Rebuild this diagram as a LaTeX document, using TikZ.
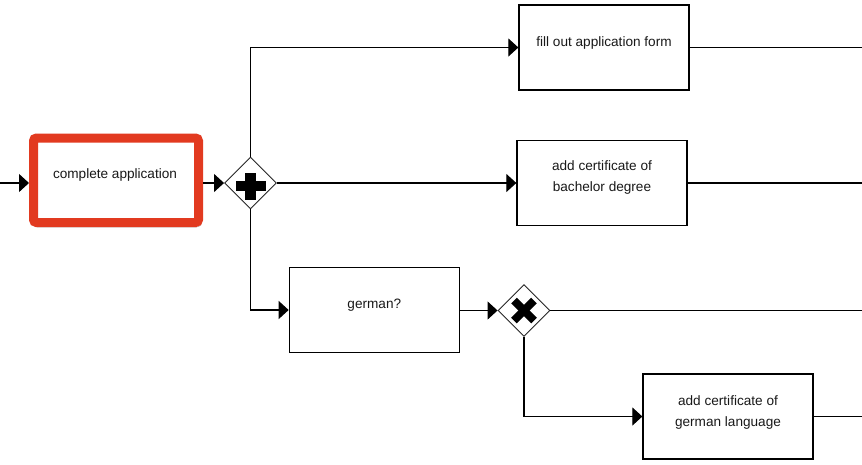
\documentclass[tikz,border=0pt]{standalone}
\usepackage{fontspec}
\setmainfont{Liberation Sans}
\usetikzlibrary{arrows.meta,shapes.geometric,shadows.blur}
\definecolor{hlred}{RGB}{226,58,32}
\begin{document}
\begin{tikzpicture}[x=1pt,y=-1pt,
  task/.style={draw=black, line width=1.3pt, minimum width=170pt, minimum height=85pt, inner sep=0pt, fill=white},
  hltask/.style={draw=hlred, line width=9pt, rounded corners=3pt, minimum width=165pt, minimum height=84.5pt, inner sep=0pt, fill=white,
     blur shadow={shadow xshift=1pt, shadow yshift=-2.5pt, shadow blur steps=6, shadow opacity=45}},
  gate/.style={diamond, aspect=1, draw=black!85, line width=0.9pt, minimum size=52pt, inner sep=0pt, fill=white},
  flow/.style={line width=1.05pt, -{Triangle[length=10pt,width=18pt]}},
  plain/.style={line width=1.05pt},
  txt/.style={font=\fontsize{13.6}{21}\selectfont, align=center, inner sep=0pt, text=black!90}
]
\useasboundingbox (0,0) rectangle (862,464);
\fill[white] (0,0) rectangle (862,464);

% nodes
\node[hltask] (compl) at (116,180.25) {};
\node[txt] (complt) at (115,175) {complete application};
\node[gate] (and) at (250.5,183) {};
\node[task] (fill) at (604,47.5) {};
\node[txt] (fillt) at (604,43) {fill out application form};
\node[task] (bach) at (602,183) {};
\node[txt] (bacht) at (602,177.5) {add certificate of\\bachelor degree};
\node[task] (germ) at (374.3,310) {};
\node[txt] (germt) at (374.3,305) {german?};
\node[gate] (xor) at (524,310.5) {};
\node[task] (glang) at (728,416.5) {};
\node[txt] (glangt) at (728,412.5) {add certificate of\\german language};

% gateway markers
\begin{scope}[shift={(and.center)}]
  \fill[black] (-15,-2) rectangle (15,8);
  \fill[black] (-5.5,-10.5) rectangle (5.5,16.5);
\end{scope}
\begin{scope}[shift={(xor.center)}]
  \draw[black, line width=8pt] (-10,-10) -- (10,10);
  \draw[black, line width=8pt] (-10,10) -- (10,-10);
\end{scope}

% free ends
\coordinate (in) at (0,183);
\coordinate (o1) at (862,48);
\coordinate (o2) at (862,183);
\coordinate (o3) at (862,310.5);
\coordinate (o4) at (862,417);

% connectors
\draw[flow] (in) -- (in -| compl.west);
\draw[flow] (compl.east |- and.west) -- (and.west);
\draw[flow] (and.north) |- (fill.west);
\draw[flow] (and.east) -- (bach.west);
\draw[flow] (and.south) |- (germ.west);
\draw[flow] (germ.east |- xor.west) -- (xor.west);
\draw[flow] (xor.south) |- (glang.west);
\draw[plain] (fill.east) -- (fill.east -| o1);
\draw[plain] (bach.east) -- (bach.east -| o2);
\draw[plain] (xor.east) -- (o3);
\draw[plain] (glang.east) -- (glang.east -| o4);
\end{tikzpicture}
\end{document}
